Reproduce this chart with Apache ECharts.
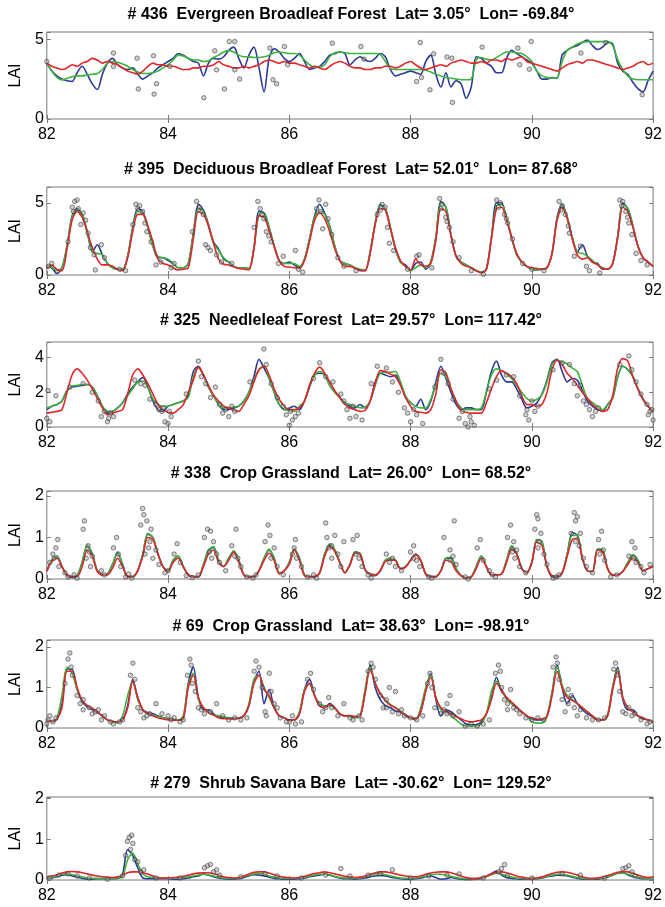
<!DOCTYPE html>
<html><head><meta charset="utf-8">
<script src="https://cdn.jsdelivr.net/npm/echarts@6/dist/echarts.min.js"></script>
<style>html,body{margin:0;padding:0;background:#fff}#c{width:665px;height:907px}</style>
</head><body><div id="c"></div>
<script>
// time grid: monthly samples from 1982 to 1992
const t = Array.from({length: 121}, (_, i) => 82 + i / 12);
const xTicks = [82, 84, 86, 88, 90, 92];

const titles = [
  "# 436  Evergreen Broadleaf Forest  Lat= 3.05°  Lon= -69.84°",
  "# 395  Deciduous Broadleaf Forest  Lat= 52.01°  Lon= 87.68°",
  "# 325  Needleleaf Forest  Lat= 29.57°  Lon= 117.42°",
  "# 338  Crop Grassland  Lat= 26.00°  Lon= 68.52°",
  "# 69  Crop Grassland  Lat= 38.63°  Lon= -98.91°",
  "# 279  Shrub Savana Bare  Lat= -30.62°  Lon= 129.52°"
];

// ---------- Panel 1 ----------
const p1Blue = [
3.5,3.0,2.7,2.5,2.4,2.35,2.9,3.3,2.8,2.2,1.85,2.8,
3.5,3.8,3.4,3.2,3.1,3.2,2.8,2.5,2.7,2.9,3.2,3.4,
3.6,3.8,4.1,4.0,3.8,3.6,3.5,2.7,3.5,3.8,3.75,3.9,
4.3,4.5,3.8,3.2,4.0,4.5,3.2,1.7,3.8,4.4,4.2,3.8,
3.6,3.8,4.1,3.6,3.1,3.2,3.3,3.6,4.0,4.1,4.2,4.1,
3.4,3.7,3.9,3.7,3.6,3.8,4.1,3.9,3.1,2.7,2.8,2.9,
3.0,2.9,2.8,3.6,4.0,2.8,2.0,2.9,2.0,2.4,2.2,1.3,
2.0,3.9,3.8,3.5,3.3,2.9,2.9,3.8,4.3,4.1,3.9,3.7,
3.5,3.0,2.5,2.5,2.6,2.55,4.0,4.3,4.5,4.6,4.8,4.95,
4.6,4.35,4.5,4.8,4.7,3.5,3.0,2.8,2.3,1.9,1.7,2.4,
3.0];
const p1Green = [
3.5,3.0,2.6,2.45,2.55,2.65,2.7,2.7,2.75,2.8,2.85,3.1,
3.5,3.6,3.55,3.45,3.3,3.1,2.95,2.85,2.85,2.9,3.0,3.2,
3.4,3.7,4.0,3.95,3.8,3.7,3.7,3.6,3.65,3.85,4.0,4.2,
4.3,4.2,4.0,3.9,3.9,3.85,3.85,3.9,4.0,4.15,4.2,4.15,
4.1,4.1,4.0,3.7,3.4,3.25,3.25,3.4,3.9,4.15,4.2,4.15,
4.1,4.1,4.1,4.1,4.1,4.1,4.05,3.6,3.15,3.1,3.1,3.1,
3.1,3.1,3.1,3.05,2.95,2.8,2.7,2.6,2.55,2.5,2.46,2.46,
2.5,3.7,3.85,3.75,3.7,3.85,4.05,4.2,4.2,4.15,4.1,3.9,
3.6,3.0,2.7,2.6,2.56,2.6,3.6,4.3,4.5,4.7,4.8,4.85,
4.85,4.85,4.85,4.85,4.6,3.7,3.1,2.7,2.5,2.46,2.46,2.46,
2.46];
const p1Red = [
3.5,3.3,3.2,3.1,3.2,3.4,3.3,3.5,3.6,3.8,3.7,3.5,
3.6,3.5,3.4,3.2,3.0,2.9,2.8,3.0,3.3,3.5,3.4,3.4,
3.3,3.3,3.2,3.1,3.1,3.2,3.2,3.3,3.3,3.4,3.6,3.4,
3.3,3.2,3.2,3.3,3.2,3.3,3.4,3.6,3.7,3.6,3.5,3.6,
3.5,3.5,3.4,3.3,3.2,3.3,3.2,3.1,3.3,3.5,3.6,3.5,
3.3,3.2,3.2,3.1,3.1,3.2,3.2,3.3,3.3,3.2,3.3,3.5,
3.6,3.4,3.2,3.1,3.2,3.3,3.4,3.3,3.5,3.6,3.7,3.6,
3.5,3.5,3.6,3.5,3.7,3.7,3.6,3.8,3.7,3.8,3.9,3.6,
3.5,3.4,3.3,3.2,3.1,3.0,3.2,3.4,3.5,3.6,3.5,3.7,
3.7,3.6,3.5,3.4,3.3,3.2,3.1,3.2,3.3,3.5,3.6,3.4,
3.5];
const p1Dots = [[82.0,3.6],[83.10,4.13],[83.10,3.29],[83.49,3.81],[83.51,1.88],[83.76,3.96],[83.77,1.56],[83.81,2.21],[84.03,3.29],[84.59,1.33],[84.77,4.27],[84.80,3.08],[84.93,1.88],[85.01,4.85],[85.10,4.85],[85.10,3.08],[85.18,2.5],[85.68,4.44],[85.73,2.46],[85.79,2.21],[85.92,4.54],[85.97,3.4],[86.71,4.75],[87.18,4.54],[87.23,3.75],[88.16,4.79],[88.10,2.35],[88.18,2.6],[88.32,1.83],[88.38,4.08],[88.60,3.88],[88.68,3.81],[88.69,1.04],[89.18,4.5],[89.77,4.44],[89.80,3.4],[89.96,3.12],[89.99,4.85],[90.81,4.13],[91.22,4.79],[91.82,1.52]];

// ---------- Panel 2 ----------
const p2Blue = [
0.6,0.5,0.1,0.5,2.0,4.1,4.6,4.2,3.0,1.6,2.1,1.4,
0.8,0.5,0.4,0.4,1.3,3.3,4.6,4.4,3.3,2.0,1.2,1.2,
1.0,0.8,0.5,0.5,0.8,2.9,4.9,4.5,3.5,2.3,1.8,1.1,
0.9,0.6,0.5,0.5,0.45,1.9,4.4,4.3,3.3,2.0,1.0,0.8,
0.9,0.7,0.5,1.1,2.5,4.1,4.9,4.3,3.4,2.0,1.0,0.8,
0.7,0.5,0.3,0.3,1.6,3.6,4.9,4.6,3.3,1.8,0.9,0.7,
0.3,0.8,0.9,0.4,0.9,2.6,5.1,4.7,2.8,1.3,0.9,0.7,
0.5,0.3,0.2,0.4,2.6,5.0,5.0,3.9,2.6,1.4,0.9,0.6,
0.4,0.35,0.4,0.5,1.5,4.0,4.9,4.0,2.6,1.6,2.1,1.3,
0.9,0.8,0.4,0.4,0.8,2.7,5.0,4.6,3.4,2.0,1.2,0.9,
0.6];
const p2Green = [
0.6,0.55,0.3,0.5,2.0,4.0,4.5,4.2,3.0,1.6,1.5,1.4,
0.8,0.5,0.4,0.4,1.3,3.2,4.4,4.3,3.3,2.0,1.3,1.2,
1.1,0.8,0.5,0.5,0.8,2.8,4.6,4.4,3.4,2.2,1.7,1.2,
0.9,0.6,0.5,0.5,0.45,1.9,4.2,4.3,3.3,2.0,1.0,0.8,
0.8,0.8,0.6,1.1,2.5,4.0,4.4,4.2,3.4,2.0,1.0,0.8,
0.7,0.5,0.4,0.35,1.6,3.6,4.8,4.6,3.3,1.8,0.9,0.6,
0.3,0.5,0.7,0.5,0.9,2.6,5.0,4.7,2.8,1.3,0.9,0.7,
0.5,0.3,0.2,0.4,2.6,4.8,4.9,3.9,2.6,1.4,0.9,0.6,
0.4,0.35,0.4,0.5,1.5,3.9,4.8,4.0,2.6,1.6,1.5,1.3,
1.0,0.7,0.5,0.4,0.8,2.7,4.9,4.6,3.4,2.0,1.2,0.9,
0.6];
const p2Red = [
0.46,0.7,0.4,0.3,1.8,3.8,4.4,4.0,3.0,1.9,1.1,0.7,
0.7,0.6,0.4,0.3,1.2,3.0,4.2,4.2,3.4,2.3,1.1,0.8,
0.7,0.5,0.35,0.4,0.5,2.5,4.4,4.2,3.4,2.2,1.1,0.75,
0.7,0.55,0.45,0.4,0.35,1.8,4.1,4.0,3.1,2.0,1.0,0.6,
0.55,0.5,0.45,1.0,2.3,3.8,4.3,3.9,3.0,1.8,1.0,0.6,
0.6,0.45,0.35,0.3,1.5,3.5,4.6,4.5,3.2,1.9,1.0,0.6,
0.35,1.1,0.7,0.6,0.8,2.4,4.6,4.4,2.7,1.3,0.8,0.6,
0.5,0.3,0.15,0.4,2.5,4.6,4.7,3.8,2.6,1.5,0.9,0.6,
0.5,0.45,0.4,0.5,1.5,3.8,4.7,3.9,2.5,1.4,1.1,1.2,
0.9,0.7,0.45,0.4,0.8,2.6,4.7,4.4,3.3,2.0,1.2,0.9,
0.6];
const p2Dots = [[82.03,0.6],[82.08,0.8],[82.35,2.3],[82.42,4.7],[82.46,5.1],[82.5,5.2],[82.52,4.6],[82.56,3.5],[82.6,4.3],[82.68,2.9],[82.72,1.9],[82.78,1.4],[82.8,0.35],[82.9,2.1],[82.95,1.2],
[83.2,0.4],[83.3,0.3],[83.42,3.5],[83.47,4.9],[83.53,4.8],[83.58,4.4],[83.65,3.0],[83.72,2.3],[83.8,0.7],[83.88,0.9],[84.05,0.5],[84.1,0.8],
[84.4,3.0],[84.47,5.1],[84.52,4.7],[84.58,4.2],[84.62,2.1],[84.7,1.7],[84.8,1.4],[84.88,0.9],[85.05,0.8],
[85.42,3.3],[85.48,5.1],[85.55,4.2],[85.58,3.9],[85.62,3.0],[85.7,2.3],[85.82,0.8],[85.9,1.3],[86.1,1.7],[86.15,0.4],[86.22,0.2],
[86.45,4.6],[86.49,5.2],[86.55,3.2],[86.6,4.9],[86.7,2.8],[86.8,1.2],[86.9,0.6],
[87.1,0.3],[87.45,4.2],[87.53,4.9],[87.58,4.7],[87.65,2.2],[87.72,1.7],[87.95,0.4],[88.1,1.3],[88.14,1.4],
[88.35,0.5],[88.48,5.3],[88.52,4.9],[88.58,4.0],[88.64,3.3],[88.7,2.3],[88.8,1.2],[89.0,0.3],
[89.2,0.05],[89.42,5.2],[89.48,5.0],[89.55,4.2],[89.6,3.6],[89.68,2.5],[89.85,0.8],[90.0,0.4],
[90.2,0.3],[90.45,5.1],[90.5,4.8],[90.55,4.2],[90.62,2.9],[90.7,1.3],[90.8,2.0],[90.9,0.6],[90.95,0.3],
[91.12,0.15],[91.45,5.2],[91.5,5.1],[91.55,4.4],[91.6,3.6],[91.65,2.8],[91.72,1.5],[91.8,1.0],[91.9,0.7],
[82.44,4.4],[82.64,3.8],[83.5,4.6],[83.62,3.6],[84.5,4.5],[84.66,1.9],[85.52,4.6],[85.66,2.7],[86.52,4.4],[86.64,3.9],[87.5,4.5],[87.62,3.3],[88.5,4.6],[88.6,3.7],[89.45,4.7],[89.58,3.9],[90.48,4.5],[90.6,3.4],[91.48,4.8],[91.58,4.0]];

// ---------- Panel 3 ----------
const p3Blue = [
1.0,1.2,1.3,1.5,2.1,2.3,2.35,2.4,2.45,2.3,1.8,1.2,
0.8,0.9,1.1,1.4,1.9,2.3,2.6,2.85,2.3,1.5,1.0,0.9,
1.2,1.3,1.4,1.5,1.8,3.2,3.5,3.0,2.3,1.8,1.3,1.0,
1.0,1.1,1.2,1.5,2.0,2.9,3.9,3.4,2.8,2.0,1.3,1.0,
1.1,1.2,1.0,1.5,2.3,3.0,3.1,3.0,2.4,2.0,1.7,1.4,
1.2,1.1,1.3,1.1,1.5,2.6,3.1,3.0,2.9,3.0,2.5,1.7,
1.4,1.2,1.6,1.0,1.5,2.6,3.5,2.8,2.0,1.3,1.0,1.1,
1.1,1.0,1.0,2.0,3.2,3.8,3.0,2.6,2.6,2.2,1.6,1.1,
1.2,1.4,1.9,2.7,3.7,3.9,3.2,2.6,2.8,2.7,2.1,1.5,
1.2,1.0,0.9,1.3,1.7,2.9,3.5,3.3,2.9,2.2,1.6,1.2,
0.9];
const p3Green = [
1.1,1.2,1.3,1.5,2.1,2.35,2.4,2.45,2.45,2.3,1.8,1.2,
0.9,0.9,1.1,1.4,1.8,2.2,2.6,2.65,2.3,1.6,1.3,1.2,
1.2,1.3,1.4,1.5,1.7,2.9,3.4,3.0,2.3,1.8,1.3,1.1,
1.1,1.15,1.2,1.5,2.0,2.7,3.3,3.5,2.8,2.0,1.3,1.0,
0.95,0.9,1.2,1.5,2.4,3.0,3.2,3.0,2.4,2.0,1.7,1.4,
1.3,1.2,1.1,1.15,1.5,2.4,3.1,3.15,3.15,3.2,2.6,1.8,
1.4,1.2,1.1,1.1,1.6,2.4,3.1,2.9,2.2,1.5,1.1,1.0,
1.0,1.0,1.1,2.0,3.0,3.35,3.25,3.05,2.8,2.4,2.0,1.65,
1.5,1.6,1.85,2.6,3.6,3.85,3.75,3.65,3.4,3.2,2.4,1.65,
1.4,1.2,1.0,1.3,1.65,2.9,3.5,3.3,2.9,2.2,1.6,1.2,
0.9];
const p3Red = [
0.8,0.85,0.9,1.0,2.0,3.0,3.35,3.1,2.7,2.2,1.65,1.1,
0.7,0.8,0.9,1.0,1.9,3.0,3.35,3.0,2.5,1.9,1.3,1.0,
0.85,0.8,1.0,1.28,2.0,2.7,3.45,3.0,2.4,1.85,1.5,1.2,
1.1,0.95,0.9,1.3,1.8,2.6,3.3,3.5,3.0,2.2,1.6,1.2,
1.0,1.0,1.1,1.5,2.4,3.1,3.45,3.1,2.6,2.1,1.7,1.3,
1.1,1.0,0.9,0.95,1.5,2.5,3.25,3.2,3.05,2.9,2.4,1.7,
1.2,0.9,0.85,0.8,1.0,1.9,3.3,3.1,2.2,1.5,0.95,0.85,
0.8,0.8,0.8,1.4,2.2,2.9,3.25,3.1,2.9,2.5,1.8,1.3,
1.28,1.2,1.3,2.0,3.3,3.85,3.6,3.1,2.8,2.4,2.0,1.65,
1.3,1.05,0.9,1.0,1.8,3.4,3.94,3.8,2.9,2.2,1.6,1.2,
0.9];
const p3Dots = [[82.0,0.5],[82.02,2.1],[82.05,0.3],[82.15,1.8],[82.38,2.3],[82.6,2.5],[82.75,2.0],[82.85,1.5],[82.9,0.6],[83.0,0.3],[83.02,0.5],[83.1,0.6],
[83.45,2.7],[83.55,2.5],[83.62,2.4],[83.7,1.6],[83.8,1.3],[83.85,1.0],[83.9,0.9],[83.95,0.3],[84.0,0.2],[84.05,0.6],
[84.3,1.9],[84.5,3.8],[84.55,2.9],[84.62,2.5],[84.7,1.7],[84.78,2.3],[84.85,1.3],[84.9,0.8],[85.0,0.6],[85.1,0.9],
[85.35,2.6],[85.58,4.5],[85.62,3.6],[85.7,2.5],[85.8,1.7],[85.9,1.2],[86.0,0.1],[86.05,0.4],[86.1,0.6],[86.15,0.8],
[86.4,2.8],[86.5,3.7],[86.6,2.9],[86.72,2.6],[86.85,1.9],[86.9,1.5],[87.0,0.5],[87.1,0.6],[87.2,0.4],
[87.35,2.5],[87.45,3.5],[87.6,3.4],[87.7,2.6],[87.8,2.0],[87.9,1.1],[88.0,0.3],[88.1,0.7],[88.2,0.2],
[88.4,2.3],[88.5,3.9],[88.55,3.1],[88.62,2.5],[88.7,1.6],[88.8,0.5],[88.9,0.2],[88.95,0.0],[89.0,0.3],[89.05,0.1],
[89.3,2.2],[89.42,2.7],[89.58,3.0],[89.7,2.9],[89.8,1.8],[89.9,0.7],[89.95,0.4],[90.05,0.9],[90.1,1.2],
[90.35,3.3],[90.5,3.7],[90.62,3.6],[90.7,2.5],[90.75,1.8],[90.8,2.4],[90.85,1.5],[90.95,1.0],[91.0,0.6],[91.1,1.1],
[91.45,3.6],[91.6,4.1],[91.65,3.3],[91.72,2.6],[91.8,1.9],[91.9,1.3],[91.95,0.9],[92.0,0.4],
[82.95,0.9],[83.05,0.8],[83.92,1.1],[84.02,0.9],[84.95,1.0],[85.05,1.2],[85.95,0.7],[86.02,0.9],[86.95,1.0],[87.05,1.2],[87.95,0.8],[88.05,1.0],[88.85,0.9],[88.98,0.6],[89.92,1.0],[90.0,1.5],[90.9,1.3],[91.05,0.9],[91.92,0.7],[91.98,1.0]];

// ---------- Panel 4 ----------
const p4Blue = [
0.2,0.45,0.55,0.3,0.08,0.04,0.08,0.4,0.8,0.6,0.2,0.1,
0.12,0.35,0.62,0.35,0.05,0.05,0.2,0.6,1.08,1.0,0.6,0.3,
0.2,0.45,0.55,0.3,0.1,0.05,0.05,0.35,0.68,0.76,0.45,0.3,
0.5,0.66,0.45,0.1,0.05,0.05,0.2,0.5,0.7,0.5,0.15,0.2,
0.4,0.72,0.5,0.1,0.05,0.05,0.15,0.6,0.82,0.7,0.4,0.15,
0.35,0.65,0.6,0.22,0.1,0.08,0.2,0.45,0.5,0.45,0.25,0.3,
0.45,0.6,0.45,0.12,0.05,0.05,0.2,0.5,0.5,0.25,0.08,0.02,
0.05,0.3,0.55,0.3,0.1,0.1,0.12,0.45,0.78,0.62,0.25,0.15,
0.4,0.95,0.9,0.3,0.05,0.04,0.15,0.6,1.12,1.05,0.5,0.2,
0.18,0.72,0.7,0.25,0.1,0.1,0.18,0.4,0.58,0.45,0.2,0.25,
0.3];
const p4Green = [
0.2,0.45,0.55,0.3,0.1,0.06,0.08,0.4,0.82,0.6,0.2,0.1,
0.12,0.35,0.65,0.35,0.06,0.06,0.2,0.6,1.1,1.0,0.6,0.3,
0.2,0.45,0.55,0.3,0.1,0.06,0.06,0.35,0.7,0.78,0.45,0.3,
0.5,0.68,0.45,0.1,0.06,0.06,0.2,0.5,0.72,0.5,0.15,0.2,
0.4,0.72,0.5,0.1,0.06,0.06,0.15,0.6,0.85,0.7,0.4,0.15,
0.35,0.65,0.62,0.22,0.12,0.1,0.2,0.45,0.5,0.45,0.25,0.3,
0.45,0.6,0.45,0.12,0.06,0.06,0.2,0.5,0.52,0.25,0.08,0.03,
0.05,0.3,0.55,0.3,0.1,0.1,0.12,0.45,0.8,0.62,0.25,0.15,
0.4,0.95,0.9,0.3,0.08,0.06,0.15,0.6,1.05,1.05,0.5,0.2,
0.18,0.72,0.7,0.25,0.1,0.1,0.18,0.4,0.58,0.45,0.2,0.25,
0.3];
const p4Red = [
0.18,0.42,0.5,0.3,0.1,0.06,0.06,0.3,0.7,0.55,0.18,0.1,
0.1,0.26,0.5,0.3,0.06,0.06,0.2,0.55,1.0,0.95,0.6,0.3,
0.18,0.4,0.5,0.3,0.1,0.06,0.06,0.3,0.6,0.7,0.4,0.3,
0.45,0.65,0.4,0.1,0.06,0.06,0.2,0.45,0.62,0.45,0.12,0.2,
0.35,0.7,0.45,0.08,0.06,0.06,0.15,0.55,0.78,0.66,0.4,0.15,
0.34,0.62,0.6,0.22,0.12,0.1,0.2,0.42,0.46,0.45,0.25,0.28,
0.45,0.58,0.45,0.12,0.06,0.06,0.2,0.45,0.42,0.2,0.08,0.03,
0.05,0.25,0.5,0.3,0.1,0.1,0.12,0.4,0.72,0.6,0.25,0.15,
0.4,0.9,0.8,0.3,0.08,0.06,0.15,0.55,0.95,0.98,0.5,0.2,
0.18,0.7,0.65,0.25,0.1,0.1,0.18,0.35,0.5,0.4,0.2,0.25,
0.3];
const p4Dots = [[82.05,0.4],[82.1,0.6],[82.15,0.75],[82.18,0.95],[82.2,0.3],[82.3,0.15],[82.6,1.2],[82.62,1.4],[82.65,0.5],[82.68,0.8],[82.72,0.3],[82.75,0.55],[82.9,0.2],
[83.1,0.75],[83.15,1.0],[83.18,0.6],[83.22,0.3],[83.55,1.3],[83.58,1.7],[83.6,1.55],[83.62,0.6],[83.65,1.4],[83.7,0.9],[83.72,1.2],[83.75,0.5],[83.8,0.7],[83.85,0.35],[84.0,0.2],
[84.1,0.6],[84.15,0.85],[84.2,0.4],[84.6,1.0],[84.65,1.2],[84.7,1.15],[84.72,0.5],[84.75,0.9],[84.8,0.6],[84.85,0.4],[85.05,0.8],[85.12,1.2],[85.15,0.5],[85.2,0.3],
[85.6,0.9],[85.65,1.3],[85.68,1.05],[85.7,0.5],[85.75,0.75],[85.8,0.3],[86.05,0.6],[86.1,0.95],[86.12,0.5],[86.2,0.3],
[86.6,1.35],[86.62,1.0],[86.65,0.75],[86.7,0.5],[86.75,1.05],[86.8,0.6],[86.85,0.3],[86.9,0.9],
[87.05,0.95],[87.12,1.05],[87.15,0.5],[87.2,0.3],[87.6,0.6],[87.65,0.4],[87.7,0.5],[87.75,0.3],[88.0,0.65],[88.05,0.8],[88.1,0.45],[88.15,0.3],
[88.55,1.0],[88.65,0.7],[88.7,0.55],[88.75,0.35],[88.72,1.4],[89.1,0.75],[89.15,0.95],[89.2,0.45],[89.3,0.2],
[89.6,1.0],[89.65,1.3],[89.7,0.9],[89.72,0.5],[89.75,0.7],[89.8,0.3],[90.05,1.2],[90.08,1.55],[90.1,1.45],[90.12,0.9],[90.15,1.1],[90.2,0.6],[90.25,0.35],
[90.65,1.1],[90.7,1.6],[90.72,1.4],[90.75,1.5],[90.78,0.8],[90.8,1.1],[90.85,0.5],[90.9,0.3],
[91.1,0.95],[91.15,1.15],[91.18,0.7],[91.2,0.45],[91.6,0.55],[91.65,0.9],[91.7,0.75],[91.72,0.4],[91.8,0.3],[91.95,0.35],
[82.35,0.05],[82.45,0.1],[82.5,0.02],[82.95,0.1],[83.3,0.05],[83.35,0.12],[83.4,0.02],[83.95,0.15],[84.3,0.08],[84.4,0.03],[84.5,0.1],[84.95,0.2],[85.3,0.05],[85.4,0.02],[85.45,0.1],[85.9,0.1],[86.3,0.05],[86.4,0.1],[86.45,0.02],[87.3,0.1],[87.35,0.02],[87.85,0.2],[88.3,0.05],[88.35,0.02],[88.9,0.05],[88.95,0.0],[89.35,0.1],[89.4,0.05],[89.9,0.15],[90.35,0.02],[90.4,0.05],[90.45,0.1],[91.0,0.15],[91.3,0.05],[91.4,0.1],[91.85,0.15],
[82.12,0.5],[82.7,0.65],[83.68,0.75],[84.68,0.65],[85.1,0.55],[86.08,0.75],[86.7,0.8],[87.1,0.6],[88.05,0.5],[88.65,0.45],[89.68,0.65],[90.1,0.75],[90.72,0.9],[91.12,0.6],[91.68,0.5]];

// ---------- Panel 5 ----------
const p5Blue = [
0.2,0.16,0.22,0.6,1.45,1.45,0.95,0.65,0.52,0.45,0.38,0.3,
0.2,0.16,0.15,0.2,0.55,1.2,0.75,0.45,0.38,0.35,0.3,0.25,
0.22,0.2,0.2,0.25,1.1,1.5,0.75,0.45,0.45,0.35,0.28,0.25,
0.23,0.23,0.24,0.3,0.55,1.15,1.4,0.6,0.95,0.5,0.3,0.25,
0.2,0.2,0.35,0.95,1.2,0.8,0.55,0.5,0.6,0.5,0.35,0.3,
0.3,0.28,0.3,0.9,1.55,1.0,0.7,0.55,0.5,0.42,0.4,0.3,
0.25,0.23,0.4,0.95,1.35,0.7,0.3,0.45,0.4,0.3,0.2,0.1,
0.08,0.08,0.15,0.35,0.75,1.25,0.9,0.75,0.6,0.5,0.4,0.3,
0.22,0.2,0.2,0.3,0.85,1.55,1.0,0.6,0.8,0.6,0.45,0.35,
0.28,0.2,0.2,0.3,1.0,1.5,0.7,0.45,0.45,0.3,0.22,0.2,
0.15];
const p5Green = [
0.19,0.16,0.25,0.8,1.5,1.35,0.95,0.68,0.55,0.48,0.4,0.3,
0.2,0.15,0.13,0.3,0.8,1.15,0.7,0.45,0.35,0.32,0.28,0.25,
0.22,0.22,0.2,0.3,1.05,1.35,0.7,0.5,0.4,0.32,0.3,0.28,
0.25,0.24,0.24,0.3,0.6,1.2,1.3,1.0,0.75,0.5,0.3,0.25,
0.18,0.2,0.4,0.95,1.1,0.8,0.6,0.55,0.55,0.48,0.35,0.3,
0.28,0.25,0.3,0.95,1.5,1.1,0.85,0.7,0.58,0.5,0.42,0.32,
0.25,0.2,0.5,1.0,1.3,0.75,0.45,0.4,0.3,0.2,0.1,0.05,
0.05,0.05,0.1,0.35,0.9,1.15,0.95,0.72,0.6,0.5,0.4,0.3,
0.15,0.12,0.12,0.3,0.9,1.5,1.05,0.8,0.7,0.6,0.5,0.4,
0.3,0.22,0.2,0.35,1.0,1.45,0.75,0.5,0.4,0.3,0.25,0.2,
0.15];
const p5Red = [
0.19,0.16,0.22,0.5,1.4,1.4,1.0,0.68,0.55,0.48,0.4,0.3,
0.2,0.16,0.15,0.2,0.5,1.15,0.75,0.45,0.35,0.3,0.25,0.22,
0.2,0.19,0.19,0.22,1.0,1.3,0.75,0.5,0.38,0.32,0.25,0.23,
0.23,0.23,0.24,0.3,0.55,1.1,1.3,0.95,0.8,0.5,0.3,0.25,
0.19,0.2,0.35,0.9,1.1,0.8,0.55,0.5,0.58,0.5,0.35,0.3,
0.31,0.28,0.3,0.85,1.45,1.1,0.85,0.68,0.56,0.5,0.4,0.32,
0.25,0.23,0.4,0.9,1.25,0.75,0.5,0.42,0.35,0.28,0.23,0.17,
0.15,0.17,0.2,0.35,0.7,1.1,0.95,0.75,0.64,0.52,0.4,0.3,
0.25,0.22,0.22,0.28,0.8,1.4,1.0,0.75,0.68,0.6,0.5,0.4,
0.3,0.2,0.2,0.3,0.95,1.4,0.75,0.5,0.4,0.3,0.25,0.2,
0.15];
const p5Dots = [[82.02,0.2],[82.05,0.3],[82.1,0.15],[82.3,1.1],[82.35,1.7],[82.38,1.85],[82.4,1.5],[82.42,1.3],[82.5,0.8],[82.55,0.6],[82.6,0.7],[82.7,0.5],[82.75,0.35],[82.85,0.45],[82.95,0.3],[83.05,0.15],
[83.38,1.3],[83.42,1.6],[83.45,1.2],[83.5,0.5],[83.55,0.4],[83.7,0.35],[83.8,0.6],[83.9,0.35],[84.0,0.3],[84.1,0.25],
[84.32,1.3],[84.36,1.7],[84.38,1.55],[84.4,1.1],[84.45,0.9],[84.5,0.5],[84.6,0.35],[84.7,0.4],[84.8,0.6],[84.9,0.3],[85.1,0.25],
[85.42,1.4],[85.45,1.65],[85.5,1.5],[85.55,1.0],[85.6,0.4],[85.62,0.3],[85.67,1.35],[85.7,0.9],[85.75,0.6],[85.85,0.25],[86.0,0.15],[86.05,0.3],
[86.3,1.2],[86.35,1.35],[86.4,0.95],[86.5,0.6],[86.55,0.4],[86.65,0.75],[86.7,0.5],[86.8,0.3],[86.9,0.6],[87.0,0.25],
[87.3,1.4],[87.35,1.6],[87.38,1.5],[87.42,1.2],[87.5,0.8],[87.55,0.5],[87.6,0.7],[87.65,1.0],[87.7,0.4],[87.75,0.9],[87.8,0.35],[87.9,0.3],[88.0,0.25],
[88.28,1.1],[88.32,1.35],[88.35,1.0],[88.4,0.5],[88.5,0.35],[88.55,0.45],[88.6,0.6],[88.65,0.8],[88.7,0.3],[88.8,0.4],[89.0,0.1],
[89.4,1.35],[89.45,1.55],[89.48,1.4],[89.5,1.0],[89.55,0.7],[89.6,0.45],[89.65,0.95],[89.7,0.5],[89.8,0.35],[89.9,0.25],
[90.35,1.5],[90.4,1.75],[90.42,1.6],[90.45,1.2],[90.5,0.7],[90.55,0.4],[90.6,0.95],[90.65,0.8],[90.7,0.5],[90.75,0.3],[90.9,0.25],
[91.35,1.45],[91.38,1.6],[91.4,1.3],[91.45,0.9],[91.5,0.4],[91.55,0.35],[91.6,0.5],[91.7,0.35],[91.8,0.2],[91.95,0.15],
[82.0,0.1],[82.15,0.25],[82.9,0.2],[83.1,0.1],[83.2,0.15],[83.25,0.2],[83.6,0.25],[84.05,0.2],[84.2,0.15],[84.25,0.2],[85.0,0.2],[85.2,0.2],[85.3,0.25],[85.95,0.15],[86.1,0.1],[86.2,0.15],[87.05,0.2],[87.15,0.3],[87.2,0.2],[88.1,0.2],[88.2,0.3],[88.9,0.05],[89.1,0.05],[89.2,0.1],[89.3,0.2],[90.0,0.2],[90.1,0.25],[90.2,0.2],[91.0,0.2],[91.1,0.2],[91.2,0.25],[91.9,0.1],
[82.6,0.45],[82.8,0.4],[83.65,0.3],[84.55,0.45],[85.8,0.5],[86.6,0.5],[87.6,0.5],[87.85,0.45],[88.6,0.35],[89.6,0.6],[89.75,0.45],[90.6,0.6],[90.8,0.45],[91.65,0.3]];

// ---------- Panel 6 ----------
const p6Blue = [
0.05,0.05,0.08,0.12,0.13,0.1,0.07,0.04,0.02,0.02,0.03,0.03,
0.03,0.03,0.04,0.15,0.75,0.6,0.3,0.05,0.03,0.03,0.03,0.03,
0.03,0.02,0.02,0.03,0.05,0.08,0.1,0.15,0.12,0.08,0.05,0.03,
0.02,0.02,0.03,0.06,0.1,0.13,0.12,0.1,0.07,0.04,0.03,0.02,
0.02,0.02,0.03,0.05,0.08,0.1,0.12,0.14,0.12,0.08,0.05,0.03,
0.03,0.02,0.03,0.05,0.08,0.1,0.11,0.1,0.07,0.05,0.03,0.02,
0.02,0.03,0.05,0.08,0.1,0.06,0.02,0.03,0.06,0.04,0.02,0.01,
0.01,0.02,0.04,0.08,0.16,0.22,0.12,0.06,0.04,0.03,0.02,0.02,
0.02,0.03,0.05,0.08,0.1,0.12,0.12,0.1,0.07,0.04,0.02,0.02,
0.02,0.02,0.04,0.07,0.12,0.17,0.2,0.12,0.08,0.05,0.03,0.03,
0.03];
const p6Green = [
0.05,0.06,0.1,0.14,0.15,0.13,0.1,0.08,0.05,0.04,0.04,0.04,
0.04,0.04,0.05,0.08,0.5,0.66,0.4,0.15,0.08,0.06,0.05,0.05,
0.05,0.05,0.05,0.06,0.08,0.1,0.12,0.14,0.12,0.1,0.07,0.05,
0.04,0.04,0.05,0.08,0.12,0.15,0.16,0.14,0.1,0.07,0.05,0.04,
0.04,0.04,0.05,0.07,0.1,0.12,0.14,0.14,0.12,0.09,0.06,0.05,
0.05,0.04,0.05,0.08,0.12,0.15,0.15,0.13,0.1,0.07,0.05,0.04,
0.04,0.05,0.07,0.1,0.13,0.14,0.14,0.12,0.09,0.06,0.04,0.03,
0.03,0.03,0.05,0.08,0.13,0.17,0.15,0.1,0.07,0.05,0.04,0.03,
0.03,0.04,0.06,0.09,0.12,0.14,0.14,0.12,0.09,0.06,0.04,0.03,
0.03,0.04,0.05,0.08,0.12,0.16,0.17,0.14,0.1,0.07,0.05,0.04,
0.04];
const p6Red = [
0.08,0.1,0.13,0.17,0.2,0.21,0.2,0.18,0.15,0.12,0.1,0.08,
0.07,0.06,0.08,0.12,0.18,0.2,0.2,0.18,0.15,0.1,0.06,0.05,
0.05,0.06,0.07,0.09,0.12,0.15,0.17,0.18,0.18,0.16,0.12,0.08,
0.06,0.05,0.06,0.1,0.15,0.19,0.2,0.2,0.17,0.13,0.09,0.07,
0.06,0.05,0.06,0.09,0.13,0.16,0.18,0.2,0.18,0.15,0.12,0.09,
0.08,0.06,0.07,0.1,0.14,0.18,0.2,0.2,0.18,0.15,0.12,0.1,
0.08,0.08,0.1,0.14,0.17,0.19,0.2,0.2,0.18,0.14,0.1,0.06,
0.04,0.04,0.06,0.1,0.15,0.19,0.2,0.18,0.14,0.1,0.07,0.05,
0.04,0.05,0.08,0.12,0.16,0.19,0.2,0.19,0.16,0.12,0.08,0.05,
0.04,0.05,0.07,0.11,0.15,0.19,0.21,0.2,0.17,0.12,0.08,0.06,
0.08];
const p6Dots = [[82.05,0.05],[82.2,0.12],[82.35,0.15],[82.5,0.1],[82.7,0.05],[83.0,0.02],[83.25,0.1],[83.3,0.6],[83.33,0.95],[83.36,1.05],[83.38,0.75],[83.4,1.1],[83.42,0.9],[83.45,0.5],[83.5,0.45],[83.55,0.2],[83.6,0.25],[83.8,0.05],[84.2,0.05],[84.6,0.3],[84.65,0.35],[84.7,0.38],[84.75,0.2],[84.8,0.25],[84.85,0.12],[85.2,0.08],[85.6,0.15],[85.8,0.1],[86.2,0.05],[86.6,0.12],[86.85,0.28],[87.0,0.1],[87.3,0.12],[87.5,0.15],[87.7,0.25],[88.0,0.05],[88.3,0.1],[88.6,0.12],[88.8,0.15],[89.2,0.05],[89.45,0.2],[89.5,0.28],[89.55,0.38],[89.6,0.1],[90.0,0.05],[90.5,0.15],[90.8,0.12],[91.2,0.05],[91.5,0.28],[91.55,0.3],[91.6,0.35],[91.65,0.2],[91.7,0.1]];

// ---------- layout ----------
const panels = [
  {blue:p1Blue, green:p1Green, red:p1Red, dots:p1Dots, yMax:5.45, yInt:5, top:32,  h:87, ty:15},
  {blue:p2Blue, green:p2Green, red:p2Red, dots:p2Dots, yMax:6.1,  yInt:5, top:187, h:88, ty:170},
  {blue:p3Blue, green:p3Green, red:p3Red, dots:p3Dots, yMax:4.9,  yInt:2, top:342, h:85, ty:321},
  {blue:p4Blue, green:p4Green, red:p4Red, dots:p4Dots, yMax:2.12, yInt:1, top:491, h:88, ty:474},
  {blue:p5Blue, green:p5Green, red:p5Red, dots:p5Dots, yMax:2.17, yInt:1, top:640, h:88, ty:627},
  {blue:p6Blue, green:p6Green, red:p6Red, dots:p6Dots, yMax:2.04, yInt:1, top:797, h:83, ty:784}
];
const FONT = '"Liberation Sans", Arial, sans-serif';
const FRAME = '#7a7a7a';
const grids = [], xAxes = [], yAxes = [], series = [], graphics = [];
panels.forEach((p, i) => {
  grids.push({left:46, right:9, top:p.top, height:p.h, show:true, borderColor:FRAME, borderWidth:1, backgroundColor:'#fff'});
  const tick = {show:true, inside:true, length:4, lineStyle:{color:FRAME, width:1}};
  xAxes.push({gridIndex:i, type:'value', min:82, max:92, interval:2, position:'bottom',
    axisLine:{show:false}, axisTick:tick, splitLine:{show:false},
    axisLabel:{color:'#000', fontSize:16, fontFamily:FONT, margin:8,
      formatter: v => xTicks.includes(v) ? String(v) : ''}});
  xAxes.push({gridIndex:i, type:'value', min:82, max:92, interval:2, position:'top',
    axisLine:{show:false}, axisTick:tick, splitLine:{show:false}, axisLabel:{show:false}});
  yAxes.push({gridIndex:i, type:'value', min:0, max:p.yMax, interval:p.yInt, position:'left',
    name:'LAI', nameLocation:'middle', nameGap:18, nameRotate:90,
    nameTextStyle:{color:'#000', fontSize:16, fontFamily:FONT},
    axisLine:{show:false}, axisTick:tick, splitLine:{show:false},
    axisLabel:{color:'#000', fontSize:16, fontFamily:FONT, margin:3,
      formatter: v => (Math.abs(v / p.yInt - Math.round(v / p.yInt)) < 1e-9) ? String(v) : ''}});
  yAxes.push({gridIndex:i, type:'value', min:0, max:p.yMax, interval:p.yInt, position:'right',
    axisLine:{show:false}, axisTick:tick, splitLine:{show:false}, axisLabel:{show:false}});
  const xi = 2 * i, yi = 2 * i;
  const line = (arr, color, z) => ({type:'line', xAxisIndex:xi, yAxisIndex:yi,
    data: t.map((x, k) => [x, arr[k]]), showSymbol:false, smooth:0.3, clip:true,
    lineStyle:{color, width:1.6}, z, silent:true});
  series.push(line(p.blue, '#2b3a98', 2));
  series.push(line(p.green, '#3cb43c', 3));
  series.push(line(p.red, '#e3262a', 4));
  series.push({type:'scatter', xAxisIndex:xi, yAxisIndex:yi, data:p.dots, symbol:'circle', symbolSize:4.5,
    itemStyle:{color:'rgba(150,150,150,0.55)', borderColor:'rgba(40,40,40,0.85)', borderWidth:0.8}, z:5, silent:true});
  graphics.push({type:'text', x:351, y:p.ty, style:{text:titles[i], fill:'#000',
    font:'bold 16px ' + FONT, align:'center', verticalAlign:'middle'}});
});
const chart = echarts.init(document.getElementById('c'), null, {renderer:'canvas'});
chart.setOption({animation:false, backgroundColor:'#fff', grid:grids, xAxis:xAxes, yAxis:yAxes, series, graphic:graphics});
</script></body></html>
